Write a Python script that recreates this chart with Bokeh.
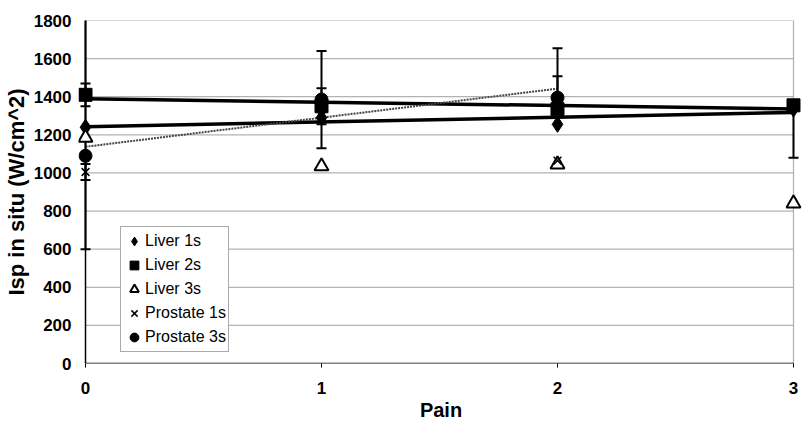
import numpy as np
from bokeh.plotting import figure
from bokeh.models import Range1d, FixedTicker, Legend, LegendItem
from bokeh.embed import file_html
from bokeh.resources import INLINE

# ---------------- data ----------------
pain = [0, 1, 2, 3]
pain_prostate = [0, 1, 2]

liver_1s = [1240, 1290, 1255, 1335]
liver_2s = [1410, 1350, 1335, 1355]
liver_3s = [1185, 1035, 1045, 840]
prostate_1s = [1005, 1300, 1065]
prostate_3s = [1090, 1385, 1395]

liver_1s_err_lo = [640, 0, 0, 0]
liver_1s_err_hi = [640, 0, 0, 0]
liver_2s_err_lo = [60, 95, 0, 275]
liver_2s_err_hi = [60, 95, 172, 0]
prostate_1s_err_lo = [42, 0, 0]
prostate_1s_err_hi = [42, 0, 0]
prostate_3s_err_lo = [0, 255, 0]
prostate_3s_err_hi = [0, 255, 260]

x_ticks = [0, 1, 2, 3]
y_ticks = [0, 200, 400, 600, 800, 1000, 1200, 1400, 1600, 1800]

FONT = "Liberation Sans"

p = figure(width=803, height=425, output_backend="svg", toolbar_location=None,
           x_range=Range1d(-0.0297, 3.0424), y_range=Range1d(0, 1800),
           min_border_left=78, min_border_right=0, min_border_top=20, min_border_bottom=62)
p.outline_line_color = None
p.xgrid.visible = False
p.ygrid.visible = False
p.background_fill_color = "white"

# grid lines (dotted) from first to last x tick
p.segment(x0=[x_ticks[0]] * (len(y_ticks) - 1), x1=[x_ticks[-1]] * (len(y_ticks) - 1),
          y0=y_ticks[1:], y1=y_ticks[1:], line_color="#666666", line_width=1.2, line_dash="1 1")
# right border of plot area
p.segment(x0=[x_ticks[-1]], x1=[x_ticks[-1]], y0=[y_ticks[0]], y1=[y_ticks[-1]],
          line_color="#666666", line_width=1.2, line_dash="1 1")
# axis lines
p.segment(x0=[x_ticks[0]], x1=[x_ticks[-1]], y0=[y_ticks[0]], y1=[y_ticks[0]],
          line_color="black", line_width=1.5)
p.segment(x0=[x_ticks[0]], x1=[x_ticks[0]], y0=[y_ticks[0]], y1=[y_ticks[-1]],
          line_color="black", line_width=1.5)

# linear trendlines
def trend(xs, ys, **kw):
    k, b = np.polyfit(xs, ys, 1)
    x0, x1 = min(xs), max(xs)
    p.line([x0, x1], [k * x0 + b, k * x1 + b], **kw)

trend(pain, liver_1s, line_color="black", line_width=3.5)
trend(pain, liver_2s, line_color="black", line_width=3.5)
trend(pain_prostate, prostate_3s, line_color="#444444", line_width=2, line_dash="2 1")

# error bars
def errbars(xs, ys, lo, hi):
    sx, y0, y1, cx, cy = [], [], [], [], []
    for x, y, l, h in zip(xs, ys, lo, hi):
        if l + h > 0:
            sx.append(x); y0.append(y - l); y1.append(y + h)
        if l > 0:
            cx.append(x); cy.append(y - l)
        if h > 0:
            cx.append(x); cy.append(y + h)
    if sx:
        p.segment(x0=sx, x1=sx, y0=y0, y1=y1, line_color="black", line_width=2)
    if cx:
        p.scatter(cx, cy, marker="dash", size=10, line_color="black", line_width=2)

errbars(pain, liver_1s, liver_1s_err_lo, liver_1s_err_hi)
errbars(pain, liver_2s, liver_2s_err_lo, liver_2s_err_hi)
errbars(pain_prostate, prostate_1s, prostate_1s_err_lo, prostate_1s_err_hi)
errbars(pain_prostate, prostate_3s, prostate_3s_err_lo, prostate_3s_err_hi)

# markers
r1 = p.scatter(pain, liver_1s, marker="diamond", size=16, fill_color="black", line_color="black")
r2 = p.scatter(pain, liver_2s, marker="square", size=13, fill_color="black", line_color="black")
r3 = p.scatter(pain, liver_3s, marker="triangle", size=14, fill_color="white",
               line_color="black", line_width=2)
r4 = p.scatter(pain_prostate, prostate_1s, marker="x", size=11, line_color="black", line_width=1.5)
r5 = p.scatter(pain_prostate, prostate_3s, marker="circle", size=13, fill_color="black",
               line_color="black")

legend = Legend(items=[
    LegendItem(label="Liver 1s", renderers=[r1]),
    LegendItem(label="Liver 2s", renderers=[r2]),
    LegendItem(label="Liver 3s", renderers=[r3]),
    LegendItem(label="Prostate 1s", renderers=[r4]),
    LegendItem(label="Prostate 3s", renderers=[r5]),
], location=(42, 11))
legend.border_line_color = "#555555"
legend.border_line_width = 1
legend.background_fill_color = "white"
legend.background_fill_alpha = 1
legend.label_text_font = FONT
legend.label_text_font_size = "16px"
legend.label_text_color = "black"
legend.glyph_width = 22
legend.glyph_height = 24
legend.label_height = 24
legend.spacing = -1
legend.padding = 2
legend.margin = 0
legend.label_standoff = 0
p.add_layout(legend, "center")

# axes
p.xaxis.ticker = FixedTicker(ticks=x_ticks)
p.yaxis.ticker = FixedTicker(ticks=y_ticks)
p.xaxis.axis_line_color = None
p.yaxis.axis_line_color = None
p.xaxis.major_tick_line_color = "black"
p.xaxis.major_tick_out = 4
p.xaxis.major_tick_in = 0
p.xaxis.minor_tick_line_color = None
p.yaxis.major_tick_line_color = None
p.yaxis.major_tick_out = 0
p.yaxis.major_tick_in = 0
p.yaxis.minor_tick_line_color = None
p.xaxis.major_label_standoff = 14
p.yaxis.major_label_standoff = 7

for ax in (p.xaxis, p.yaxis):
    ax.major_label_text_font = FONT
    ax.major_label_text_font_size = "17px"
    ax.major_label_text_font_style = "bold"
    ax.major_label_text_color = "black"
    ax.axis_label_text_font = FONT
    ax.axis_label_text_font_style = "bold"
    ax.axis_label_text_color = "black"

p.xaxis.axis_label = "Pain"
p.xaxis.axis_label_text_font_size = "20px"
p.xaxis.axis_label_standoff = 2
p.yaxis.axis_label = "Isp in situ (W/cm^2)"
p.yaxis.axis_label_text_font_size = "22px"
p.yaxis.axis_label_standoff = 2

open("out.html", "w").write(file_html(p, INLINE))
